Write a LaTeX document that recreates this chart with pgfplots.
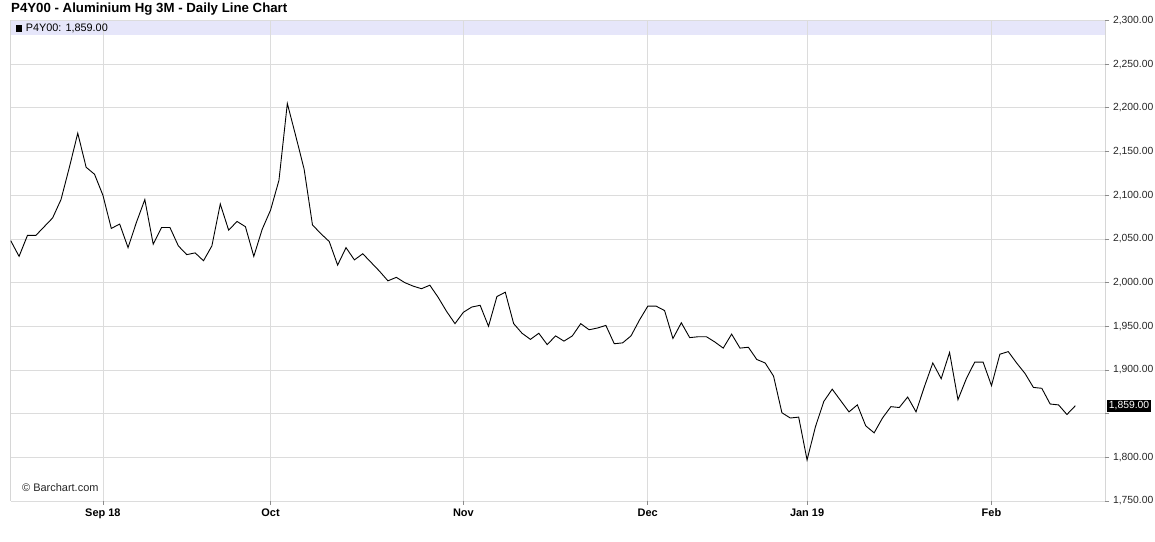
\documentclass[border=0pt]{standalone}
\usepackage{pgfplots}
\pgfplotsset{compat=1.18}
\usepackage{fontspec}
\setmainfont{Liberation Sans}
\definecolor{gridgray}{HTML}{DCDCDC}
\definecolor{framegray}{HTML}{8C8C8C}
\definecolor{bandcol}{HTML}{E6E6FA}
\begin{document}
\begin{tikzpicture}
\begin{axis}[
 set layers=standard,
 scale only axis, width=1094.8bp, height=480.5bp,
 xmin=0, xmax=130.6, ymin=1750, ymax=2300,
 axis line style={draw=none},
 xtick={11,31,54,76,95,117},
 xticklabels={Sep 18,Oct,Nov,Dec,Jan 19,Feb},
 xticklabel style={font=\fontsize{11}{12}\selectfont\bfseries, text=black},
 ytick={1750,1800,1900,1950,2000,2050,2100,2150,2200,2250,2300},
 extra y ticks={1850}, extra y tick labels={},
 extra y tick style={grid=major},
 yticklabel pos=right, ytick pos=right, xtick pos=bottom,
 tick align=outside, major tick length=4bp,
 tick style={framegray, line width=0.8bp},
 grid=major, grid style={gridgray, line width=0.8bp},
 yticklabel style={font=\fontsize{10.4}{12}\selectfont, text=black!85},
 /pgf/number format/.cd, fixed, fixed zerofill, precision=2, 1000 sep={{,}}, assume math mode=true,
]
\begin{pgfonlayer}{axis background}
\fill[bandcol] (rel axis cs:0,1) rectangle (rel axis cs:1,0.97086);
\end{pgfonlayer}
\draw[framegray, line width=1bp] (rel axis cs:0,1) -- (rel axis cs:0,0) -- (rel axis cs:1,0) -- (rel axis cs:1,1);
\addplot[black, line width=0.9bp, mark=none] coordinates {
(0,2048) (1,2030) (2,2054) (3,2054) (4,2064) (5,2074) (6,2095) (7,2132) (8,2171) (9,2132)
(10,2124) (11,2100) (12,2062) (13,2067) (14,2040) (15,2069) (16,2095) (17,2044) (18,2063) (19,2063)
(20,2042) (21,2032) (22,2034) (23,2025) (24,2042) (25,2090) (26,2060) (27,2070) (28,2064) (29,2030)
(30,2061) (31,2083) (32,2117) (33,2205) (34,2168) (35,2130) (36,2066) (37,2056) (38,2047) (39,2020)
(40,2040) (41,2026) (42,2033) (43,2023) (44,2013) (45,2002) (46,2006) (47,2000) (48,1996) (49,1993)
(50,1997) (51,1983) (52,1967) (53,1953) (54,1966) (55,1972) (56,1974) (57,1950) (58,1984) (59,1989)
(60,1953) (61,1942) (62,1935) (63,1942) (64,1929) (65,1939) (66,1933) (67,1939) (68,1953) (69,1946)
(70,1948) (71,1951) (72,1930) (73,1931) (74,1939) (75,1957) (76,1973) (77,1973) (78,1968) (79,1936)
(80,1954) (81,1937) (82,1938) (83,1938) (84,1932) (85,1925) (86,1941) (87,1925) (88,1926) (89,1912)
(90,1908) (91,1893) (92,1851) (93,1845) (94,1846) (95,1797) (96,1835) (97,1864) (98,1878) (99,1865)
(100,1852) (101,1860) (102,1836) (103,1828) (104,1845) (105,1858) (106,1857) (107,1869) (108,1852) (109,1881)
(110,1908) (111,1890) (112,1920) (113,1866) (114,1890) (115,1909) (116,1909) (117,1882) (118,1918) (119,1921)
(120,1908) (121,1896) (122,1880) (123,1879) (124,1861) (125,1860) (126,1849) (127,1859)
};
\end{axis}
\node[anchor=base west, inner sep=0pt, font=\fontsize{13.3}{15}\selectfont\bfseries] at (0.3bp,488.7bp) {P4Y00 - Aluminium Hg 3M - Daily Line Chart};
\fill[black] (5bp,469.3bp) rectangle (11.5bp,475.8bp);
\node[anchor=west, inner sep=0pt, font=\fontsize{10.9}{12}\selectfont] at (15bp,472.5bp) {P4Y00: 1,859.00};
\node[anchor=west, inner sep=0pt, font=\fontsize{11}{12}\selectfont, text=black!85] at (11.3bp,13bp) {© Barchart.com};
\node[anchor=west, fill=black, text=white, inner sep=1.5bp, font=\fontsize{10.4}{12}\selectfont] at (1096.5bp,95bp) {1,859.00};
\pgfresetboundingbox
\path[use as bounding box] (-10.7bp,-41bp) rectangle (1144.3bp,501bp);
\end{tikzpicture}
\end{document}
